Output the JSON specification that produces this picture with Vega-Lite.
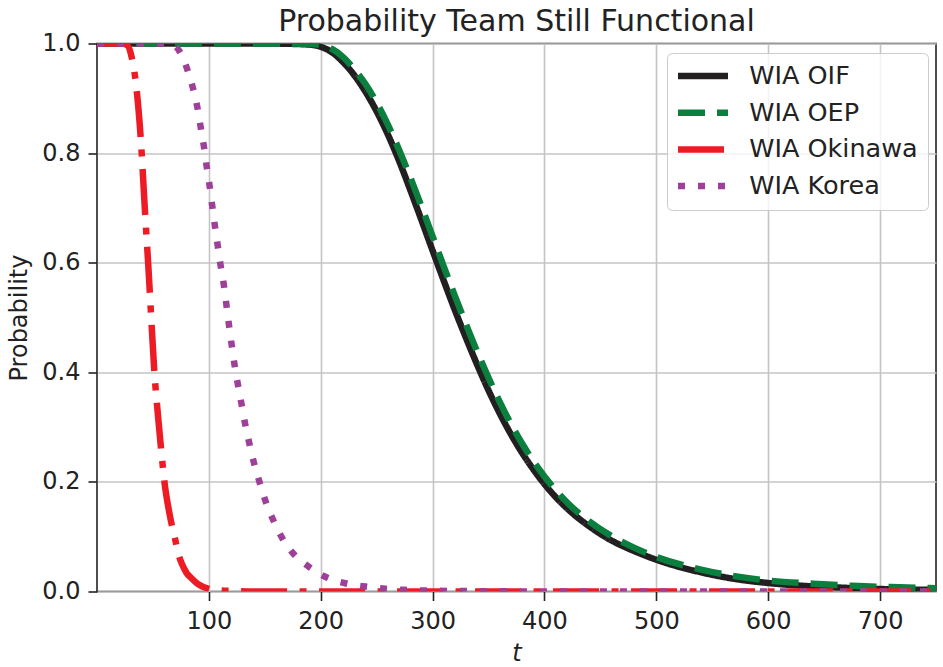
{
  "$schema": "https://vega.github.io/schema/vega-lite/v6.json",
  "description": "Probability team still functional, four WIA curves",
  "width": 839,
  "height": 548,
  "autosize": "none",
  "padding": {"left": 97, "top": 43.5, "right": 7, "bottom": 75.5},
  "title": {
    "text": "Probability Team Still Functional",
    "fontSize": 30,
    "fontWeight": "normal",
    "baseline": "bottom",
    "offset": -35,
    "anchor": "middle",
    "color": "#222"
  },
  "data": {
    "values": [
      {"s": "WIA OIF", "t": 0, "p": 1},
      {"s": "WIA OIF", "t": 150, "p": 1},
      {"s": "WIA OIF", "t": 180, "p": 0.999},
      {"s": "WIA OIF", "t": 190, "p": 0.998},
      {"s": "WIA OIF", "t": 200, "p": 0.994},
      {"s": "WIA OIF", "t": 210, "p": 0.984},
      {"s": "WIA OIF", "t": 220, "p": 0.966},
      {"s": "WIA OIF", "t": 230, "p": 0.942},
      {"s": "WIA OIF", "t": 240, "p": 0.912},
      {"s": "WIA OIF", "t": 250, "p": 0.876},
      {"s": "WIA OIF", "t": 260, "p": 0.834},
      {"s": "WIA OIF", "t": 270, "p": 0.786},
      {"s": "WIA OIF", "t": 280, "p": 0.733},
      {"s": "WIA OIF", "t": 290, "p": 0.678},
      {"s": "WIA OIF", "t": 300, "p": 0.622},
      {"s": "WIA OIF", "t": 310, "p": 0.567},
      {"s": "WIA OIF", "t": 320, "p": 0.513},
      {"s": "WIA OIF", "t": 330, "p": 0.462},
      {"s": "WIA OIF", "t": 340, "p": 0.413},
      {"s": "WIA OIF", "t": 350, "p": 0.367},
      {"s": "WIA OIF", "t": 360, "p": 0.325},
      {"s": "WIA OIF", "t": 370, "p": 0.287},
      {"s": "WIA OIF", "t": 380, "p": 0.253},
      {"s": "WIA OIF", "t": 390, "p": 0.223},
      {"s": "WIA OIF", "t": 400, "p": 0.196},
      {"s": "WIA OIF", "t": 420, "p": 0.152},
      {"s": "WIA OIF", "t": 440, "p": 0.119},
      {"s": "WIA OIF", "t": 460, "p": 0.093},
      {"s": "WIA OIF", "t": 480, "p": 0.074},
      {"s": "WIA OIF", "t": 500, "p": 0.058},
      {"s": "WIA OIF", "t": 540, "p": 0.035},
      {"s": "WIA OIF", "t": 570, "p": 0.023},
      {"s": "WIA OIF", "t": 600, "p": 0.0155},
      {"s": "WIA OIF", "t": 630, "p": 0.0105},
      {"s": "WIA OIF", "t": 660, "p": 0.0075},
      {"s": "WIA OIF", "t": 700, "p": 0.0045},
      {"s": "WIA OIF", "t": 750, "p": 0.003},
      {"s": "WIA OEP", "t": 0, "p": 1},
      {"s": "WIA OEP", "t": 160, "p": 1},
      {"s": "WIA OEP", "t": 190, "p": 0.999},
      {"s": "WIA OEP", "t": 200, "p": 0.997},
      {"s": "WIA OEP", "t": 210, "p": 0.99},
      {"s": "WIA OEP", "t": 220, "p": 0.975},
      {"s": "WIA OEP", "t": 230, "p": 0.953},
      {"s": "WIA OEP", "t": 240, "p": 0.926},
      {"s": "WIA OEP", "t": 250, "p": 0.892},
      {"s": "WIA OEP", "t": 260, "p": 0.852},
      {"s": "WIA OEP", "t": 270, "p": 0.806},
      {"s": "WIA OEP", "t": 280, "p": 0.756},
      {"s": "WIA OEP", "t": 290, "p": 0.703},
      {"s": "WIA OEP", "t": 300, "p": 0.648},
      {"s": "WIA OEP", "t": 310, "p": 0.593},
      {"s": "WIA OEP", "t": 320, "p": 0.539},
      {"s": "WIA OEP", "t": 330, "p": 0.487},
      {"s": "WIA OEP", "t": 340, "p": 0.437},
      {"s": "WIA OEP", "t": 350, "p": 0.39},
      {"s": "WIA OEP", "t": 360, "p": 0.346},
      {"s": "WIA OEP", "t": 370, "p": 0.306},
      {"s": "WIA OEP", "t": 380, "p": 0.27},
      {"s": "WIA OEP", "t": 390, "p": 0.238},
      {"s": "WIA OEP", "t": 400, "p": 0.21},
      {"s": "WIA OEP", "t": 420, "p": 0.163},
      {"s": "WIA OEP", "t": 440, "p": 0.128},
      {"s": "WIA OEP", "t": 460, "p": 0.101},
      {"s": "WIA OEP", "t": 480, "p": 0.08},
      {"s": "WIA OEP", "t": 500, "p": 0.063},
      {"s": "WIA OEP", "t": 540, "p": 0.04},
      {"s": "WIA OEP", "t": 570, "p": 0.028},
      {"s": "WIA OEP", "t": 600, "p": 0.02},
      {"s": "WIA OEP", "t": 640, "p": 0.0142},
      {"s": "WIA OEP", "t": 675, "p": 0.0104},
      {"s": "WIA OEP", "t": 710, "p": 0.008},
      {"s": "WIA OEP", "t": 750, "p": 0.006},
      {"s": "WIA Okinawa", "t": 0, "p": 1},
      {"s": "WIA Okinawa", "t": 22, "p": 1},
      {"s": "WIA Okinawa", "t": 27, "p": 0.997},
      {"s": "WIA Okinawa", "t": 31, "p": 0.975},
      {"s": "WIA Okinawa", "t": 34, "p": 0.94},
      {"s": "WIA Okinawa", "t": 39, "p": 0.83},
      {"s": "WIA Okinawa", "t": 43, "p": 0.69},
      {"s": "WIA Okinawa", "t": 46, "p": 0.59},
      {"s": "WIA Okinawa", "t": 49, "p": 0.48},
      {"s": "WIA Okinawa", "t": 51, "p": 0.41},
      {"s": "WIA Okinawa", "t": 55, "p": 0.31},
      {"s": "WIA Okinawa", "t": 58, "p": 0.245},
      {"s": "WIA Okinawa", "t": 60, "p": 0.205},
      {"s": "WIA Okinawa", "t": 65, "p": 0.14},
      {"s": "WIA Okinawa", "t": 70, "p": 0.094},
      {"s": "WIA Okinawa", "t": 73, "p": 0.067},
      {"s": "WIA Okinawa", "t": 76, "p": 0.05},
      {"s": "WIA Okinawa", "t": 80, "p": 0.034},
      {"s": "WIA Okinawa", "t": 84, "p": 0.025},
      {"s": "WIA Okinawa", "t": 90, "p": 0.014},
      {"s": "WIA Okinawa", "t": 100, "p": 0.005},
      {"s": "WIA Okinawa", "t": 110, "p": 0.002},
      {"s": "WIA Okinawa", "t": 120, "p": 0.001},
      {"s": "WIA Okinawa", "t": 140, "p": 0},
      {"s": "WIA Okinawa", "t": 750, "p": 0},
      {"s": "WIA Korea", "t": 0, "p": 1},
      {"s": "WIA Korea", "t": 60, "p": 1},
      {"s": "WIA Korea", "t": 66, "p": 0.998},
      {"s": "WIA Korea", "t": 70, "p": 0.995},
      {"s": "WIA Korea", "t": 74, "p": 0.985},
      {"s": "WIA Korea", "t": 78, "p": 0.968},
      {"s": "WIA Korea", "t": 82, "p": 0.945},
      {"s": "WIA Korea", "t": 86, "p": 0.917},
      {"s": "WIA Korea", "t": 89.6, "p": 0.885},
      {"s": "WIA Korea", "t": 92.6, "p": 0.848},
      {"s": "WIA Korea", "t": 95.5, "p": 0.813},
      {"s": "WIA Korea", "t": 98, "p": 0.776},
      {"s": "WIA Korea", "t": 100.6, "p": 0.741},
      {"s": "WIA Korea", "t": 103, "p": 0.704},
      {"s": "WIA Korea", "t": 105.4, "p": 0.667},
      {"s": "WIA Korea", "t": 108, "p": 0.63},
      {"s": "WIA Korea", "t": 110.5, "p": 0.595},
      {"s": "WIA Korea", "t": 113.4, "p": 0.559},
      {"s": "WIA Korea", "t": 115.7, "p": 0.523},
      {"s": "WIA Korea", "t": 118, "p": 0.486},
      {"s": "WIA Korea", "t": 120.4, "p": 0.45},
      {"s": "WIA Korea", "t": 123, "p": 0.413},
      {"s": "WIA Korea", "t": 126, "p": 0.377},
      {"s": "WIA Korea", "t": 129.2, "p": 0.342},
      {"s": "WIA Korea", "t": 132.4, "p": 0.306},
      {"s": "WIA Korea", "t": 136.2, "p": 0.27},
      {"s": "WIA Korea", "t": 140.4, "p": 0.234},
      {"s": "WIA Korea", "t": 145.4, "p": 0.199},
      {"s": "WIA Korea", "t": 150.8, "p": 0.164},
      {"s": "WIA Korea", "t": 157.6, "p": 0.13},
      {"s": "WIA Korea", "t": 165.7, "p": 0.097},
      {"s": "WIA Korea", "t": 176, "p": 0.068},
      {"s": "WIA Korea", "t": 189.5, "p": 0.045},
      {"s": "WIA Korea", "t": 204, "p": 0.027},
      {"s": "WIA Korea", "t": 222, "p": 0.015},
      {"s": "WIA Korea", "t": 240, "p": 0.009},
      {"s": "WIA Korea", "t": 258, "p": 0.005},
      {"s": "WIA Korea", "t": 275, "p": 0.003},
      {"s": "WIA Korea", "t": 300, "p": 0.0015},
      {"s": "WIA Korea", "t": 350, "p": 0.0005},
      {"s": "WIA Korea", "t": 400, "p": 0},
      {"s": "WIA Korea", "t": 750, "p": 0}
    ]
  },
  "mark": {"type": "line", "clip": true, "interpolate": "monotone", "strokeWidth": 6.5},
  "encoding": {
    "x": {
      "field": "t",
      "type": "quantitative",
      "scale": {"domain": [0, 750], "nice": false, "zero": false},
      "axis": {
        "values": [100, 200, 300, 400, 500, 600, 700],
        "title": "t",
        "titleFontStyle": "italic",
        "labelPadding": 9,
        "titlePadding": 8
      }
    },
    "y": {
      "field": "p",
      "type": "quantitative",
      "scale": {"domain": [0, 1], "nice": false},
      "axis": {
        "values": [0, 0.2, 0.4, 0.6, 0.8, 1],
        "format": ".1f",
        "title": "Probability",
        "labelPadding": 8,
        "titlePadding": 10
      }
    },
    "color": {
      "field": "s",
      "type": "nominal",
      "scale": {
        "domain": ["WIA OIF", "WIA OEP", "WIA Okinawa", "WIA Korea"],
        "range": ["#231f20", "#0b7f3e", "#ed1c24", "#9e3f98"]
      },
      "legend": {
        "title": null,
        "orient": "none",
        "legendX": 570,
        "legendY": 9.5,
        "symbolType": "M-2.778,0H2.778",
        "symbolSize": 324,
        "symbolStrokeWidth": 6.5,
        "symbolOffset": 13,
        "labelOffset": 33.5,
        "labelFontSize": 25.5,
        "labelColor": "#222",
        "labelLimit": 300,
        "padding": 10.25,
        "rowPadding": 8.7,
        "fillColor": "rgba(255,255,255,0.8)",
        "strokeColor": "#cccccc",
        "cornerRadius": 5
      }
    },
    "strokeDash": {
      "field": "s",
      "type": "nominal",
      "scale": {
        "domain": ["WIA OIF", "WIA OEP", "WIA Okinawa", "WIA Korea"],
        "range": [[1, 0], [27, 12], [46, 12.5, 7, 12.5], [7, 13]]
      }
    }
  },
  "config": {
    "font": "DejaVu Sans",
    "view": {"stroke": "#222", "strokeWidth": 1.6},
    "axis": {
      "domain": false,
      "grid": true,
      "gridColor": "#c4c4c4",
      "gridWidth": 1.6,
      "gridOpacity": 1,
      "tickColor": "#222",
      "tickWidth": 1.6,
      "tickSize": 9,
      "labelFontSize": 24,
      "labelColor": "#222",
      "titleFontSize": 24,
      "titleFontWeight": "normal",
      "titleColor": "#222"
    }
  }
}
